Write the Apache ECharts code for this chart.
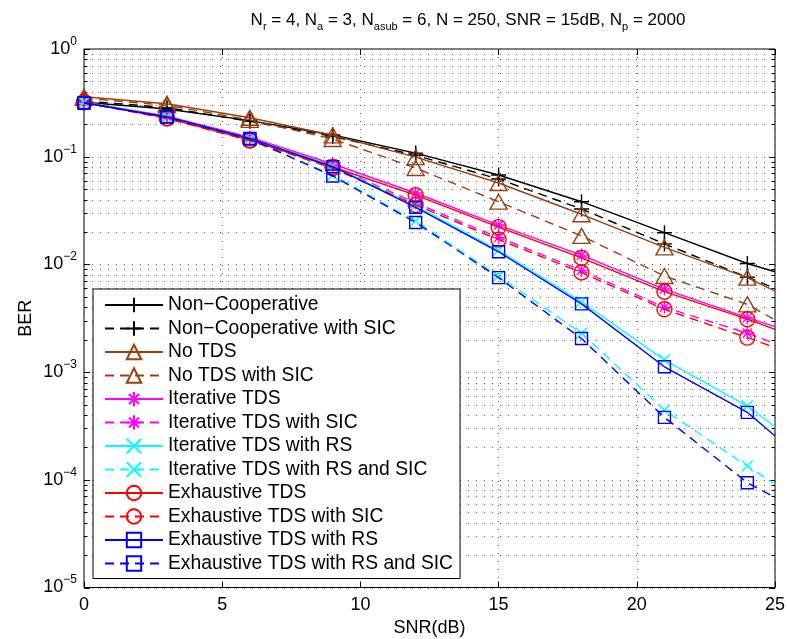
<!DOCTYPE html>
<html>
<head>
<meta charset="utf-8">
<script src="https://cdn.jsdelivr.net/npm/echarts@6/dist/echarts.min.js"></script>
<style>
  html, body { margin: 0; padding: 0; background: #fff; }
  #chart { width: 787px; height: 639px; }
</style>
</head>
<body>
<div id="chart"></div>
<script>
// SNR sample points (dB); the last point only carries the curve to the edge of the axes
const snr = [0, 3, 6, 9, 12, 15, 18, 21, 24, 25];

// Bit error rate of each detector
const nonCoop      = [0.32, 0.277, 0.216, 0.159, 0.108, 0.0676, 0.0382, 0.0197, 0.0102, 0.00855];
const nonCoopSic   = [0.33, 0.285, 0.213, 0.154, 0.103, 0.062, 0.0327, 0.0155, 0.0076, 0.0060];
const noTds        = [0.36, 0.31, 0.23, 0.158, 0.099, 0.057, 0.0292, 0.0144, 0.00753, 0.00566];
const noTdsSic     = [0.35, 0.30, 0.22, 0.146, 0.0785, 0.0382, 0.0184, 0.0078, 0.00426, 0.00305];
const iterTds      = [0.32, 0.238, 0.152, 0.0855, 0.046, 0.0232, 0.0122, 0.0059, 0.0032, 0.00264];
const iterTdsSic   = [0.32, 0.232, 0.147, 0.082, 0.0372, 0.0178, 0.0088, 0.0040, 0.0023, 0.00185];
const iterTdsRs    = [0.32, 0.235, 0.148, 0.082, 0.035, 0.0135, 0.0045, 0.0013, 0.000484, 0.000311];
const iterTdsRsSic = [0.32, 0.233, 0.146, 0.0676, 0.0253, 0.0078, 0.0023, 0.000445, 0.000134, 0.0000914];
const exhTds       = [0.32, 0.228, 0.143, 0.0802, 0.044, 0.0222, 0.0115, 0.00558, 0.0031, 0.00249];
const exhTdsSic    = [0.32, 0.226, 0.141, 0.078, 0.0356, 0.0170, 0.0084, 0.00383, 0.00209, 0.00169];
const exhTdsRs     = [0.315, 0.235, 0.148, 0.0808, 0.0339, 0.0131, 0.0043, 0.00112, 0.000423, 0.000255];
const exhTdsRsSic  = [0.315, 0.233, 0.146, 0.0662, 0.0245, 0.00753, 0.00205, 0.00038, 0.000094, 0.0000687];

// Axis ticks
const xTicks = [0, 5, 10, 15, 20, 25];
const yDecades = [-5, -4, -3, -2, -1, 0];

const FONT = "'Liberation Sans', Arial, Helvetica, sans-serif";

const PLUS  = 'path://M5,0L5,10M0,5L10,5';
const STAR  = 'path://M5,0L5,10M0,5L10,5M1.5,1.5L8.5,8.5M1.5,8.5L8.5,1.5';
const CROSS = 'path://M0,0L10,10M0,10L10,0';

const BROWN = '#9e3f0e';
const GRID_DOT = { color: '#555', dash: [1, 7] };

const curves = [
  { name: 'Non\u2212Cooperative',                 data: nonCoop,      color: '#000000', dashed: false, symbol: PLUS,       size: 15 },
  { name: 'Non\u2212Cooperative with SIC',        data: nonCoopSic,   color: '#000000', dashed: true,  symbol: PLUS,       size: 15 },
  { name: 'No TDS',                               data: noTds,        color: BROWN,     dashed: false, symbol: 'triangle', size: [17, 15] },
  { name: 'No TDS with SIC',                      data: noTdsSic,     color: BROWN,     dashed: true,  symbol: 'triangle', size: [17, 15] },
  { name: 'Iterative TDS',                        data: iterTds,      color: '#ff00ff', dashed: false, symbol: STAR,       size: 13 },
  { name: 'Iterative TDS with SIC',               data: iterTdsSic,   color: '#ff00ff', dashed: true,  symbol: STAR,       size: 13 },
  { name: 'Iterative TDS with RS',                data: iterTdsRs,    color: '#00ffff', dashed: false, symbol: CROSS,      size: 11 },
  { name: 'Iterative TDS with RS and SIC',        data: iterTdsRsSic, color: '#00ffff', dashed: true,  symbol: CROSS,      size: 11 },
  { name: 'Exhaustive TDS',                       data: exhTds,       color: '#ff0000', dashed: false, symbol: 'circle',   size: 15 },
  { name: 'Exhaustive TDS with SIC',              data: exhTdsSic,    color: '#ff0000', dashed: true,  symbol: 'circle',   size: 15 },
  { name: 'Exhaustive TDS with RS',               data: exhTdsRs,     color: '#0000ff', dashed: false, symbol: 'rect',     size: 12 },
  { name: 'Exhaustive TDS with RS and SIC',       data: exhTdsRsSic,  color: '#0000ff', dashed: true,  symbol: 'rect',     size: 12 }
];

// Log grid rows: every 1..9 x 10^k inside the y range
const gridRows = [];
yDecades.forEach(function (k) {
  for (let m = 1; m <= 9; m++) {
    const v = m * Math.pow(10, k);
    if (v <= 1.0000001) gridRows.push([0, v, m === 1 ? 1 : 0]);
  }
});

const gridSeries = {
  type: 'custom',
  name: 'grid',
  silent: true,
  z: 1,
  clip: false,
  data: gridRows,
  encode: { x: 0, y: 1 },
  renderItem: function (params, api) {
    const cs = params.coordSys;
    const p = api.coord([api.value(0), api.value(1)]);
    const y = Math.round(p[1]) + 0.5;
    const len = api.value(2) ? 6 : 3.5;
    return {
      type: 'group',
      children: [
        { type: 'line', shape: { x1: cs.x, y1: y, x2: cs.x + cs.width, y2: y },
          style: { stroke: GRID_DOT.color, lineWidth: 1, lineDash: GRID_DOT.dash } },
        { type: 'line', shape: { x1: cs.x, y1: y, x2: cs.x + len, y2: y },
          style: { stroke: '#000', lineWidth: 1 } },
        { type: 'line', shape: { x1: cs.x + cs.width - len, y1: y, x2: cs.x + cs.width, y2: y },
          style: { stroke: '#000', lineWidth: 1 } }
      ]
    };
  }
};

const lineSeries = curves.map(function (c, i) {
  return {
    type: 'line',
    name: c.name,
    z: 10 + i,
    data: c.data.map(function (v, j) {
      const item = { value: [snr[j], v] };
      if (snr[j] === 25) item.symbol = 'none';
      return item;
    }),
    symbol: c.symbol,
    symbolSize: c.size,
    showAllSymbol: true,
    lineStyle: { color: c.color, width: 1.4, type: c.dashed ? [9, 6] : 'solid' },
    itemStyle: { color: 'rgba(0,0,0,0)', borderColor: c.color, borderWidth: 1.4 },
    emphasis: { disabled: true },
    silent: true
  };
});

function supLabel(v) {
  const e = Math.round(Math.log10(v));
  return '{b|10}{e|' + (e < 0 ? '\u2212' + (-e) : String(e)) + '}';
}

const option = {
  animation: false,
  backgroundColor: '#ffffff',
  title: {
    text: '{m|N}{s|r}{m| = 4, N}{s|a}{m| = 3, N}{s|asub}{m| = 6, N = 250, SNR = 15dB, N}{s|p}{m| = 2000}',
    left: 463,
    top: 4,
    textAlign: 'center',
    textStyle: {
      fontFamily: FONT, fontWeight: 'normal', color: '#000',
      rich: {
        m: { fontFamily: FONT, fontSize: 17, color: '#000' },
        s: { fontFamily: FONT, fontSize: 11, color: '#000', padding: [12, 0, 0, 0] }
      }
    }
  },
  grid: {
    left: 84, right: 12, top: 49, bottom: 51.5,
    outerBoundsMode: 'none',
    containLabel: false,
    show: true, borderColor: '#000', borderWidth: 1, backgroundColor: '#fff'
  },
  legend: {
    data: curves.map(function (c) { return c.name; }),
    orient: 'vertical',
    left: 93, top: 289,
    itemWidth: 58, itemHeight: 18, itemGap: 3.5,
    padding: [6, 7, 5, 11],
    backgroundColor: '#fff',
    borderColor: '#000', borderWidth: 1, borderRadius: 0,
    selectedMode: false,
    textStyle: { fontFamily: FONT, fontSize: 19.3, color: '#000', lineHeight: 20 }
  },
  xAxis: [{
    type: 'value', min: 0, max: 25, interval: 5,
    name: 'SNR(dB)', nameLocation: 'middle', nameGap: 31,
    nameTextStyle: { fontFamily: FONT, fontSize: 18, color: '#000' },
    axisLine: { show: false },
    axisTick: { show: true, inside: true, length: 6, lineStyle: { color: '#000' } },
    axisLabel: { fontFamily: FONT, fontSize: 18, color: '#000', margin: 9,
      customValues: xTicks },
    splitLine: { show: true, lineStyle: { color: GRID_DOT.color, type: GRID_DOT.dash, width: 1 } }
  }, {
    type: 'value', min: 0, max: 25, interval: 5, position: 'top',
    axisLine: { show: false },
    axisTick: { show: true, inside: true, length: 6, lineStyle: { color: '#000' } },
    axisLabel: { show: false },
    splitLine: { show: false }
  }],
  yAxis: {
    type: 'log', logBase: 10, min: 1e-5, max: 1,
    name: 'BER', nameLocation: 'middle', nameGap: 49,
    nameMoveOverlap: false,
    nameTextStyle: { fontFamily: FONT, fontSize: 18, color: '#000' },
    axisLine: { show: false },
    axisTick: { show: false },
    splitLine: { show: false },
    axisLabel: {
      margin: 7,
      formatter: supLabel,
      rich: {
        b: { fontFamily: FONT, fontSize: 18, color: '#000' },
        e: { fontFamily: FONT, fontSize: 12, color: '#000', padding: [0, 0, 15, 0] }
      }
    }
  },
  series: [gridSeries].concat(lineSeries)
};

const chart = echarts.init(document.getElementById('chart'), null, { renderer: 'canvas' });
chart.setOption(option);
</script>
</body>
</html>
